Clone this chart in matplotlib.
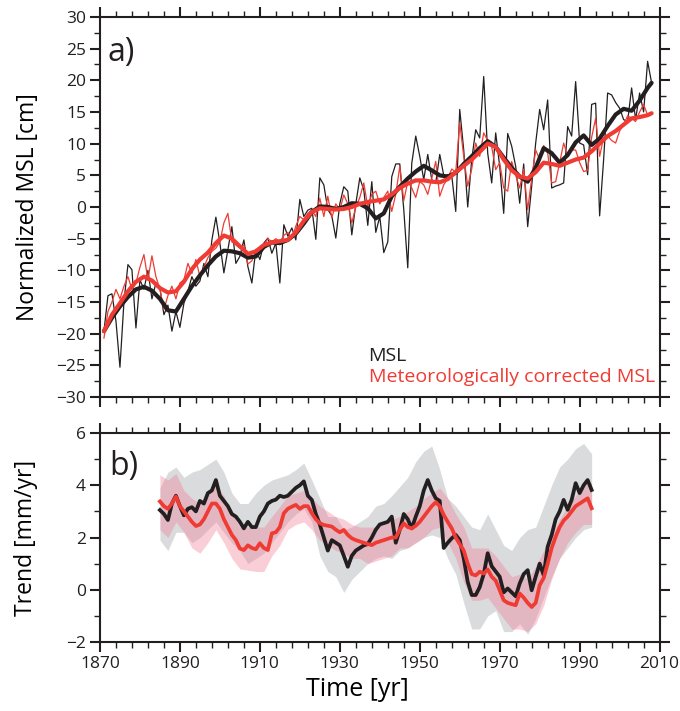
import numpy as np
import matplotlib
matplotlib.use("Agg")
import matplotlib.pyplot as plt
from matplotlib.ticker import MultipleLocator, FixedLocator

plt.rcParams['font.family'] = ['Open Sans', 'DejaVu Sans']

BLACK = '#231f20'
RED = '#ef3b33'

# ---- panel a: annual mean sea level (cm), 1871-2008
years = np.arange(1871, 2009)
msl = [-19.6, -14.0, -13.7, -18.0, -25.3, -15.0, -9.1, -9.9, -19.1, -11.5,
       -13.0, -10.0, -14.5, -12.0, -12.8, -17.0, -15.5, -19.6, -16.5, -19.0,
       -15.2, -13.3, -11.0, -12.5, -11.7, -8.9, -11.0, -5.2, -1.6, -5.7,
       -10.4, -6.7, -3.1, -8.9, -7.8, -5.2, -9.4, -12.0, -6.7, -8.3,
       -5.7, -4.9, -7.3, -5.7, -12.0, -2.8, -4.6, -3.3, -5.2, 1.2,
       -1.5, -0.5, -0.2, -5.1, 4.6, 3.5, -0.4, -1.4, -4.9, 0.5,
       3.2, 2.5, -4.4, 0.5, 4.6, 2.7, -2.9, 4.0, -4.0, -1.5,
       -7.2, -5.5, 4.8, 6.8, 6.8, -0.4, -9.6, 6.9, 11.2, 8.0,
       4.3, 8.3, 4.3, 3.8, 8.3, 5.0, 5.1, 5.0, -0.7, 15.4,
       9.0, 0.0, 7.5, 12.2, 10.9, 20.6, 8.5, 3.8, 11.7, 6.4,
       -1.0, 11.6, 9.6, 6.4, 0.6, 6.8, -3.1, 3.3, 10.1, 15.4,
       12.2, 16.9, 3.0, 3.3, 3.5, 3.8, 12.7, 11.2, 19.8, 10.1,
       9.8, 5.1, 16.2, 16.4, -1.4, 7.5, 18.0, 17.7, 16.5, 15.6,
       13.8, 13.5, 18.8, 13.8, 18.0, 15.0, 23.0, 19.6]
msl_corr = [-20.7, -16.5, -15.0, -13.0, -14.5, -12.5, -11.0, -13.0, -12.0, -9.5,
            -7.5, -11.5, -7.7, -11.0, -13.0, -16.2, -14.0, -12.5, -14.5, -12.0,
            -11.5, -8.9, -10.5, -8.3, -11.0, -9.5, -8.0, -7.0, -6.5, -5.5,
            -2.5, -1.0, -5.5, -6.0, -6.5, -6.0, -9.0, -8.5, -7.0, -6.5,
            -6.0, -5.0, -5.5, -5.0, -5.5, -4.5, -4.0, -5.0, -3.0, -1.5,
            -2.0, -1.0, -0.5, -1.5, 1.4, -1.5, 1.7, -1.7, 0.5, -0.5,
            1.9, 0.5, -2.5, 0.0, 1.5, 3.8, 0.0, 2.0, 2.5, 0.5,
            1.5, 2.5, -0.7, 2.0, 6.4, 1.0, 4.0, 3.0, 1.5, 4.0,
            3.5, 2.0, 4.5, 7.2, 1.7, 3.5, 4.5, 6.0, 5.5, 13.3,
            8.0, 3.3, 6.0, 10.1, 8.0, 11.7, 10.5, 9.5, 5.9, 7.0,
            3.0, 2.5, 7.2, 5.0, 3.0, 6.0, -0.4, 4.5, 9.0, 7.5,
            9.7, 8.5, 3.8, 4.0, 7.0, 10.1, 8.0, 9.0, 9.0, 7.0,
            5.6, 5.8, 11.0, 14.0, 8.0, 11.0, 11.2, 10.5, 10.1, 12.0,
            13.0, 14.4, 14.0, 13.5, 15.0, 16.2, 14.5, 14.8]

# smoothed curves, read every second year
smooth_years = np.append(np.arange(1871, 2008, 2), 2008)
msl_smooth = [-19.6, -17.5, -15.7, -14.2, -13.0, -12.6, -13.2, -14.5, -16.3, -16.5,
              -14.5, -12.5, -10.8, -9.2, -7.8, -6.9, -7.0, -7.3, -8.0, -7.8,
              -6.3, -5.6, -5.7, -5.2, -4.2, -2.6, -0.8, 0.1, 0.0, -0.3,
              0.0, 0.6, 0.5, -0.2, -1.8, -1.0, 1.7, 3.2, 4.5, 5.6,
              6.5, 5.8, 5.0, 4.8, 5.4, 6.8, 8.0, 9.3, 10.4, 9.5,
              7.8, 6.2, 4.8, 4.0, 6.2, 9.3, 8.5, 7.0, 8.2, 10.2,
              11.3, 9.8, 10.8, 12.8, 14.6, 15.5, 15.2, 16.8, 18.8, 19.6]
corr_smooth = [-19.6, -17.0, -15.2, -13.3, -11.8, -11.0, -11.6, -12.8, -13.5, -13.3,
               -11.8, -9.8, -8.3, -7.2, -5.7, -4.5, -5.0, -6.2, -7.4, -7.0,
               -6.0, -5.6, -5.4, -5.2, -4.0, -2.2, -0.8, -0.2, -0.3, -0.4,
               -0.3, 0.0, 0.5, 0.8, 1.0, 1.2, 2.0, 3.0, 3.7, 4.2,
               4.2, 4.0, 3.9, 4.4, 5.5, 6.5, 7.5, 8.7, 10.0, 9.5,
               7.5, 5.8, 4.8, 4.5, 5.5, 7.0, 6.8, 6.5, 7.0, 7.5,
               7.8, 8.8, 10.0, 11.2, 12.0, 13.0, 14.0, 14.2, 14.5, 14.8]

# ---- panel b: running trends (mm/yr), 1885-1993
trend_years = np.arange(1885, 1994)
trend_msl = [3.05, 2.9, 2.67, 3.3, 3.6, 3.2, 2.85, 3.1, 3.16, 3.0,
             3.4, 3.3, 3.7, 3.8, 4.2, 3.6, 3.4, 3.2, 2.9, 2.8,
             2.6, 2.35, 2.6, 2.4, 2.4, 2.8, 3.0, 3.3, 3.4, 3.45,
             3.6, 3.55, 3.6, 3.75, 3.9, 4.0, 4.15, 3.6, 3.44, 2.9,
             2.5, 2.0, 1.5, 1.9, 1.8, 1.7, 1.3, 0.88, 1.3, 1.5,
             1.6, 1.7, 1.75, 2.0, 2.3, 2.5, 2.55, 2.6, 2.8, 1.8,
             2.3, 2.9, 2.7, 2.35, 2.8, 3.2, 3.8, 4.2, 3.8, 3.5,
             3.4, 1.6, 1.8, 1.97, 2.1, 1.9, 1.2, 0.3, -0.2, -0.2,
             0.1, 0.6, 1.4, 0.9, 0.7, 0.5, -0.1, 0.05, -0.1, -0.25,
             0.24, 0.6, 0.75, -0.02, 0.5, 1.0, 0.56, 1.65, 2.1, 2.7,
             3.0, 3.44, 3.06, 3.44, 4.08, 3.7, 4.0, 4.2, 3.82]
trend_corr = [3.38, 3.2, 3.1, 3.3, 3.57, 3.2, 3.0, 2.8, 2.6, 2.44,
              2.5, 2.7, 3.0, 3.3, 3.3, 3.1, 2.7, 2.4, 2.1, 1.9,
              1.58, 1.52, 1.7, 1.6, 1.55, 1.78, 1.6, 1.52, 2.16, 2.2,
              2.4, 2.93, 3.1, 3.18, 3.25, 3.1, 3.2, 3.2, 2.93, 2.7,
              2.55, 2.48, 2.45, 2.42, 2.3, 2.2, 2.29, 2.1, 1.97, 1.9,
              1.85, 1.8, 1.75, 1.71, 1.8, 1.85, 1.9, 1.95, 2.0, 2.0,
              2.3, 2.54, 2.4, 2.35, 2.45, 2.6, 2.8, 3.0, 3.2, 3.35,
              3.2, 2.86, 2.6, 2.35, 2.0, 1.75, 1.5, 1.0, 0.6, 0.55,
              0.69, 0.62, 0.78, 0.5, 0.35, -0.02, -0.4, -0.5, -0.55, -0.59,
              -0.14, -0.3, -0.5, -0.66, -0.5, 0.18, 0.45, 1.0, 1.6, 2.03,
              2.4, 2.65, 2.8, 3.0, 3.2, 3.3, 3.4, 3.5, 3.12]

# uncertainty bands, read every second year
band_years = np.arange(1885, 1994, 2)
msl_hi = [3.9, 4.5, 4.7, 4.3, 4.5, 4.6, 4.8, 5.0, 4.5, 3.7,
          3.3, 3.3, 3.7, 4.0, 4.2, 4.3, 4.4, 4.6, 4.85, 4.2,
          3.5, 2.8, 2.8, 2.3, 2.4, 2.6, 2.8, 3.2, 3.3, 3.6,
          3.95, 4.3, 4.9, 5.3, 5.5, 4.6, 3.5, 3.2, 2.8, 2.4,
          2.3, 2.9, 2.3, 1.7, 1.5, 2.0, 2.3, 2.4, 3.2, 4.0,
          4.7, 5.0, 5.4, 5.6, 5.2]
msl_lo = [1.9, 1.5, 2.2, 2.2, 1.8, 2.0, 2.3, 2.6, 2.2, 1.8,
          1.5, 1.0, 1.2, 1.4, 1.8, 2.2, 2.6, 2.9, 3.1, 2.6,
          1.3, 0.7, 0.5, -0.1, 0.4, 0.7, 1.0, 1.2, 1.3, 1.2,
          1.5, 1.6, 1.8, 2.0, 2.1, 2.0, 1.2, 0.6, -0.5, -1.5,
          -1.5, -1.0, -0.8, -1.6, -1.6, -1.3, -1.7, -1.1, -0.3, 0.5,
          1.2, 1.6, 2.0, 2.3, 2.4]
corr_hi = [4.4, 4.2, 4.45, 3.8, 3.5, 3.3, 3.6, 4.0, 3.6, 2.9,
           2.4, 2.4, 2.4, 2.4, 2.8, 3.2, 3.6, 3.7, 3.8, 3.5,
           3.2, 3.0, 2.8, 2.7, 2.5, 2.4, 2.4, 2.4, 2.5, 2.7,
           2.8, 3.0, 3.2, 3.5, 3.7, 3.9, 3.5, 2.9, 2.4, 1.6,
           1.6, 1.6, 1.3, 0.9, 0.5, 0.6, 0.4, 0.9, 1.5, 2.1,
           2.7, 3.2, 3.6, 4.0, 4.1]
corr_lo = [2.3, 2.0, 2.6, 2.2, 1.6, 1.4, 1.8, 2.3, 1.8, 1.2,
           0.8, 0.75, 0.7, 0.7, 1.3, 1.7, 2.3, 2.5, 2.6, 2.3,
           1.9, 1.7, 1.5, 1.4, 1.2, 1.2, 1.0, 1.1, 1.2, 1.3,
           1.6, 1.6, 1.8, 2.0, 2.3, 2.4, 1.8, 1.2, 0.3, -0.4,
           -0.4, -0.3, -0.7, -1.1, -1.5, -1.5, -1.6, -1.3, -0.6, 0.4,
           1.2, 1.8, 2.2, 2.5, 2.5]

fig = plt.figure(figsize=(6.8, 7.11), dpi=100)
ax1 = fig.add_axes([0.147, 0.4416, 0.823, 0.5345])
ax2 = fig.add_axes([0.147, 0.097, 0.823, 0.294])

# panel a
ax1.plot(years, msl, color=BLACK, lw=0.9)
ax1.plot(years, msl_corr, color=RED, lw=0.9)
ax1.plot(smooth_years, msl_smooth, color=BLACK, lw=3.0, solid_capstyle='round')
ax1.plot(smooth_years, corr_smooth, color=RED, lw=3.0, solid_capstyle='round')
ax1.set_ylim(-30, 30)
ax1.yaxis.set_major_locator(MultipleLocator(5))
ax1.yaxis.set_minor_locator(MultipleLocator(2.5))
ax1.set_ylabel('Normalized MSL [cm]', fontsize=16.5, labelpad=12)
ax1.text(0.014, 0.95, 'a)', transform=ax1.transAxes, fontsize=23,
         color=BLACK, va='top', ha='left')
ax1.text(0.48, 0.107, 'MSL', transform=ax1.transAxes, fontsize=14,
         color=BLACK, va='center', ha='left')
ax1.text(0.48, 0.052, 'Meteorologically corrected MSL', transform=ax1.transAxes,
         fontsize=14, color=RED, va='center', ha='left')
ax1.tick_params(labelbottom=False)

# panel b
ax2.fill_between(band_years, msl_lo, msl_hi, color='#dadbdd', lw=0)
ax2.fill_between(band_years, corr_lo, corr_hi, color='#f27892', alpha=0.36, lw=0)
ax2.plot(trend_years, trend_msl, color=BLACK, lw=2.7)
ax2.plot(trend_years, trend_corr, color=RED, lw=2.7)
ax2.set_ylim(-2, 6)
ax2.yaxis.set_major_locator(MultipleLocator(2))
ax2.yaxis.set_minor_locator(MultipleLocator(1))
ax2.set_ylabel('Trend [mm/yr]', fontsize=16.5, labelpad=20)
ax2.set_xlabel('Time [yr]', fontsize=18)
ax2.xaxis.set_label_coords(0.46, -0.165)
ax2.text(0.016, 0.92, 'b)', transform=ax2.transAxes, fontsize=23,
         color=BLACK, va='top', ha='left')

for ax in (ax1, ax2):
    ax.set_xlim(1870, 2010)
    ax.xaxis.set_major_locator(FixedLocator(np.arange(1870, 2011, 20)))
    ax.xaxis.set_minor_locator(FixedLocator(np.arange(1870, 2011, 4)))
    for s in ax.spines.values():
        s.set_linewidth(1.5)
        s.set_color(BLACK)
    ax.tick_params(which='both', direction='out', top=True, right=True,
                   color=BLACK, labelsize=12.5, labelcolor=BLACK)
    ax.tick_params(which='major', length=7, width=1.5, pad=3)
    ax.tick_params(which='minor', length=4, width=1.0)

fig.savefig('out.png', dpi=100)
